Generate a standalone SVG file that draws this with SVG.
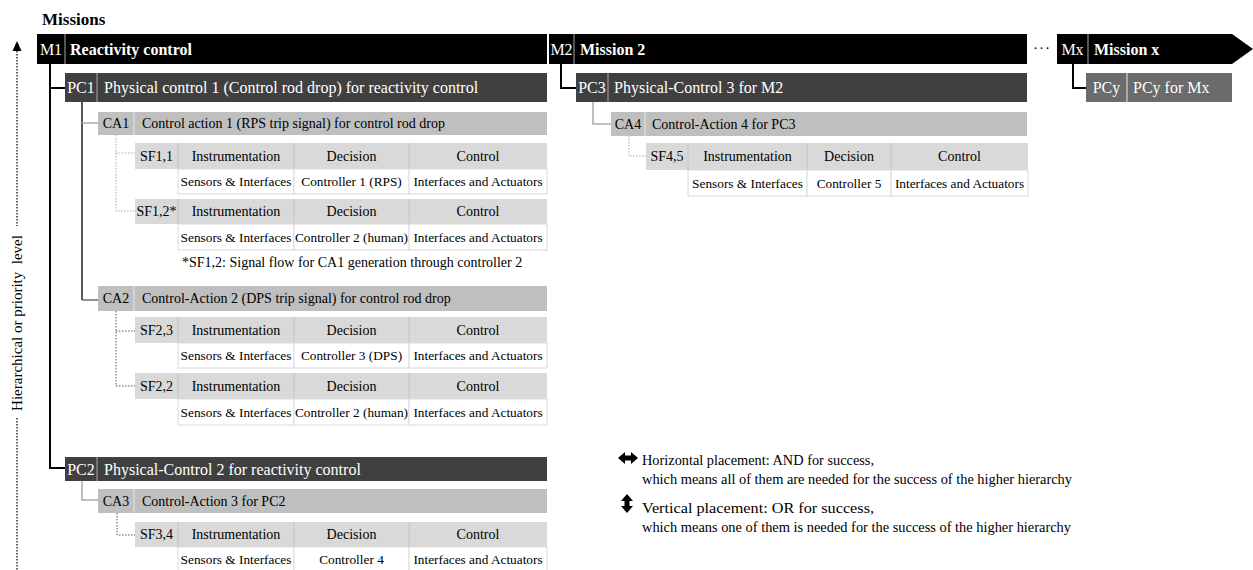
<svg xmlns="http://www.w3.org/2000/svg" width="1253" height="570" viewBox="0 0 1253 570" font-family="'Liberation Serif', 'Times New Roman', serif">
<style>
text{font-family:'Liberation Serif','Times New Roman',serif;dominant-baseline:central}
.m{fill:#000}
.pc{fill:#404040}
.pcy{fill:#6b6b6b}
.ca{fill:#bfbfbf}
.hd{fill:#d9d9d9}
.sep{stroke:#a6a6a6;stroke-width:1}
.sepw{stroke:#e8e8e8;stroke-width:1}
.wt{fill:#fff;font-size:16px}
.wb{fill:#fff;font-size:16px;font-weight:bold}
.ct{fill:#000;font-size:14px}
.th{fill:#000;font-size:14px;text-anchor:middle}
.td{fill:#000;font-size:13.3px;text-anchor:middle}
.cell{fill:#fff;stroke:#d9d9d9;stroke-width:1}
.hsep{stroke:#c4c4c4;stroke-width:1}
.blk{fill:none;stroke:#000;stroke-width:2}
.dk{fill:none;stroke:#222;stroke-width:1.5}
.lg{fill:none;stroke:#aaa;stroke-width:1.5}
.dg{fill:none;stroke:#555;stroke-width:1.3}
.dot{fill:none;stroke:#aaa;stroke-width:1;stroke-dasharray:1.5 1.5}
.dotd{fill:none;stroke:#555;stroke-width:1;stroke-dasharray:1.5 1.5}
.leg{fill:#000;font-size:15.5px}
</style>

<text x="42" y="19" style="font-size:17px;font-weight:bold;fill:#000">Missions</text>

<!-- axis -->
<g id="axis">
<polygon points="17,41 12.5,51 21.5,51" fill="#000"/>
<line x1="17" y1="51" x2="17" y2="226" stroke="#000" stroke-width="1.2" stroke-dasharray="1.5 1.5"/>
<line x1="17" y1="418" x2="17" y2="570" stroke="#000" stroke-width="1.2" stroke-dasharray="1.5 1.5"/>
<text transform="translate(17,323) rotate(-90)" style="font-size:15px;fill:#000;text-anchor:middle;white-space:pre">Hierarchical or priority  level</text>
</g>

<!-- connectors -->
<g id="connectors">
<path class="blk" d="M50,64 V468 H65 M50,88 H65"/>
<path class="blk" d="M561,64 V88 H576"/>
<path class="blk" d="M1073,64 V88 H1086"/>
<path class="dk" d="M82,102 V300"/>
<path class="dg" d="M82,300 H98"/>
<path class="lg" d="M82,123 H98"/>
<path class="lg" d="M82,481 V500 H98"/>
<path class="lg" d="M593,102 V124 H611"/>
<path class="dot" d="M116,135 V211 H135 M116,153 H135"/>
<path class="dotd" d="M116,311 V386 H135 M116,331 H135"/>
<path class="dotd" d="M117,513 V535 H135"/>
<path class="dot" d="M629,136 V156 H646"/>
</g>

<!-- Missions -->
<g id="M1">
<rect class="m" x="37" y="34" width="510" height="30"/>
<line class="sep" x1="65" y1="34" x2="65" y2="64"/>
<text class="wt" x="51" y="49" text-anchor="middle">M1</text>
<text class="wb" x="70" y="49">Reactivity control</text>
</g>
<g id="M2">
<rect class="m" x="549" y="34" width="478" height="30"/>
<line class="sep" x1="574" y1="34" x2="574" y2="64"/>
<text class="wt" x="561.5" y="49" text-anchor="middle">M2</text>
<text class="wb" x="580" y="49">Mission 2</text>
</g>
<text x="1042" y="48" style="font-size:15px;fill:#000;text-anchor:middle;letter-spacing:1px">···</text>
<g id="Mx">
<path class="m" d="M1057,34 H1232 L1253,49 L1232,64 H1057 Z"/>
<line class="sep" x1="1088" y1="34" x2="1088" y2="64"/>
<text class="wt" x="1072.5" y="49" text-anchor="middle">Mx</text>
<text class="wb" x="1094" y="49">Mission x</text>
</g>

<!-- Physical controls -->
<g id="PC1">
<rect class="pc" x="65" y="73" width="482" height="29"/>
<line class="sep" x1="97" y1="73" x2="97" y2="102"/>
<text class="wt" x="81" y="87.5" text-anchor="middle">PC1</text>
<text class="wt" x="104" y="87.5">Physical control 1 (Control rod drop) for reactivity control</text>
</g>
<g id="PC3">
<rect class="pc" x="576" y="73" width="451" height="29"/>
<line class="sep" x1="608" y1="73" x2="608" y2="102"/>
<text class="wt" x="592" y="87.5" text-anchor="middle">PC3</text>
<text class="wt" x="614" y="87.5">Physical-Control 3 for M2</text>
</g>
<g id="PCy">
<rect class="pcy" x="1086" y="73" width="146" height="29"/>
<line class="sepw" x1="1127" y1="73" x2="1127" y2="102"/>
<text class="wt" x="1106.5" y="87.5" text-anchor="middle">PCy</text>
<text class="wt" x="1133" y="87.5">PCy for Mx</text>
</g>
<g id="PC2">
<rect class="pc" x="65" y="457" width="482" height="24"/>
<line class="sep" x1="97" y1="457" x2="97" y2="481"/>
<text class="wt" x="81" y="469" text-anchor="middle">PC2</text>
<text class="wt" x="104" y="469">Physical-Control 2 for reactivity control</text>
</g>

<!-- Control actions -->
<g id="CA1">
<rect class="ca" x="98" y="112" width="449" height="23"/>
<line class="sepw" x1="134" y1="112" x2="134" y2="135"/>
<text class="ct" x="116" y="123.5" text-anchor="middle">CA1</text>
<text class="ct" x="142" y="123.5">Control action 1 (RPS trip signal) for control rod drop</text>
</g>
<g id="CA2">
<rect class="ca" x="98" y="286" width="449" height="25"/>
<line class="sepw" x1="134" y1="286" x2="134" y2="311"/>
<text class="ct" x="116" y="298.5" text-anchor="middle">CA2</text>
<text class="ct" x="142" y="298.5">Control-Action 2 (DPS trip signal) for control rod drop</text>
</g>
<g id="CA3">
<rect class="ca" x="98" y="489" width="449" height="24"/>
<line class="sepw" x1="134" y1="489" x2="134" y2="513"/>
<text class="ct" x="116" y="501" text-anchor="middle">CA3</text>
<text class="ct" x="142" y="501">Control-Action 3 for PC2</text>
</g>
<g id="CA4">
<rect class="ca" x="611" y="112" width="416" height="24"/>
<line class="sepw" x1="645" y1="112" x2="645" y2="136"/>
<text class="ct" x="628" y="124" text-anchor="middle">CA4</text>
<text class="ct" x="652" y="124">Control-Action 4 for PC3</text>
</g>

<!-- Signal flows -->
<g id="SF1_1" transform="translate(0,143)">
<rect class="hd" x="135" y="0" width="412" height="26"/>
<path class="hsep" d="M178,0 V26 M294,0 V26 M409,0 V26"/>
<rect class="cell" x="178" y="26" width="116" height="25"/>
<rect class="cell" x="294" y="26" width="115" height="25"/>
<rect class="cell" x="409" y="26" width="138" height="25"/>
<text class="th" x="156.5" y="13">SF1,1</text>
<text class="th" x="236" y="13">Instrumentation</text>
<text class="th" x="351.5" y="13">Decision</text>
<text class="th" x="478" y="13">Control</text>
<text class="td" x="236" y="38.5">Sensors &amp; Interfaces</text>
<text class="td" x="351.5" y="38.5">Controller 1 (RPS)</text>
<text class="td" x="478" y="38.5">Interfaces and Actuators</text>
</g>
<g id="SF1_2" transform="translate(0,199)">
<rect class="hd" x="135" y="0" width="412" height="25"/>
<path class="hsep" d="M178,0 V25 M294,0 V25 M409,0 V25"/>
<rect class="cell" x="178" y="25" width="116" height="26"/>
<rect class="cell" x="294" y="25" width="115" height="26"/>
<rect class="cell" x="409" y="25" width="138" height="26"/>
<text class="th" x="156.5" y="12.5">SF1,2*</text>
<text class="th" x="236" y="12.5">Instrumentation</text>
<text class="th" x="351.5" y="12.5">Decision</text>
<text class="th" x="478" y="12.5">Control</text>
<text class="td" x="236" y="38">Sensors &amp; Interfaces</text>
<text class="td" x="351.5" y="38">Controller 2 (human)</text>
<text class="td" x="478" y="38">Interfaces and Actuators</text>
</g>
<text x="182" y="262" style="font-size:14px;fill:#000">*SF1,2: Signal flow for CA1 generation through controller 2</text>
<g id="SF2_3" transform="translate(0,317)">
<rect class="hd" x="135" y="0" width="412" height="26"/>
<path class="hsep" d="M178,0 V26 M294,0 V26 M409,0 V26"/>
<rect class="cell" x="178" y="26" width="116" height="25"/>
<rect class="cell" x="294" y="26" width="115" height="25"/>
<rect class="cell" x="409" y="26" width="138" height="25"/>
<text class="th" x="156.5" y="13">SF2,3</text>
<text class="th" x="236" y="13">Instrumentation</text>
<text class="th" x="351.5" y="13">Decision</text>
<text class="th" x="478" y="13">Control</text>
<text class="td" x="236" y="38.5">Sensors &amp; Interfaces</text>
<text class="td" x="351.5" y="38.5">Controller 3 (DPS)</text>
<text class="td" x="478" y="38.5">Interfaces and Actuators</text>
</g>
<g id="SF2_2" transform="translate(0,373)">
<rect class="hd" x="135" y="0" width="412" height="26"/>
<path class="hsep" d="M178,0 V26 M294,0 V26 M409,0 V26"/>
<rect class="cell" x="178" y="26" width="116" height="26"/>
<rect class="cell" x="294" y="26" width="115" height="26"/>
<rect class="cell" x="409" y="26" width="138" height="26"/>
<text class="th" x="156.5" y="13">SF2,2</text>
<text class="th" x="236" y="13">Instrumentation</text>
<text class="th" x="351.5" y="13">Decision</text>
<text class="th" x="478" y="13">Control</text>
<text class="td" x="236" y="39">Sensors &amp; Interfaces</text>
<text class="td" x="351.5" y="39">Controller 2 (human)</text>
<text class="td" x="478" y="39">Interfaces and Actuators</text>
</g>
<g id="SF3_4" transform="translate(0,522)">
<rect class="hd" x="135" y="0" width="412" height="25"/>
<path class="hsep" d="M178,0 V25 M294,0 V25 M409,0 V25"/>
<rect class="cell" x="178" y="25" width="116" height="26"/>
<rect class="cell" x="294" y="25" width="115" height="26"/>
<rect class="cell" x="409" y="25" width="138" height="26"/>
<text class="th" x="156.5" y="12.5">SF3,4</text>
<text class="th" x="236" y="12.5">Instrumentation</text>
<text class="th" x="351.5" y="12.5">Decision</text>
<text class="th" x="478" y="12.5">Control</text>
<text class="td" x="236" y="37.5">Sensors &amp; Interfaces</text>
<text class="td" x="351.5" y="37.5">Controller 4</text>
<text class="td" x="478" y="37.5">Interfaces and Actuators</text>
</g>
<g id="SF4_5" transform="translate(0,143)">
<rect class="hd" x="646" y="0" width="382" height="27"/>
<path class="hsep" d="M688,0 V27 M807,0 V27 M891,0 V27"/>
<rect class="cell" x="688" y="27" width="119" height="26"/>
<rect class="cell" x="807" y="27" width="84" height="26"/>
<rect class="cell" x="891" y="27" width="137" height="26"/>
<text class="th" x="667" y="13.5">SF4,5</text>
<text class="th" x="747.5" y="13.5">Instrumentation</text>
<text class="th" x="849" y="13.5">Decision</text>
<text class="th" x="959.5" y="13.5">Control</text>
<text class="td" x="747.5" y="40">Sensors &amp; Interfaces</text>
<text class="td" x="849" y="40">Controller 5</text>
<text class="td" x="959.5" y="40">Interfaces and Actuators</text>
</g>

<!-- legend -->
<g id="legend">
<polygon points="618,458 625,452 625,455.5 631,455.5 631,452 638,458 631,464 631,460.5 625,460.5 625,464" fill="#000"/>
<text class="leg" x="642" y="459" textLength="232" lengthAdjust="spacingAndGlyphs">Horizontal placement: AND for success,</text>
<text class="leg" x="642" y="478" textLength="430" lengthAdjust="spacingAndGlyphs">which means all of them are needed for the success of the higher hierarchy</text>
<polygon points="627,494 633,501 629.5,501 629.5,506 633,506 627,513 621,506 624.5,506 624.5,501 621,501" fill="#000"/>
<text class="leg" x="642" y="507" textLength="232" lengthAdjust="spacingAndGlyphs">Vertical placement: OR for success,</text>
<text class="leg" x="642" y="526" textLength="429" lengthAdjust="spacingAndGlyphs">which means one of them is needed for the success of the higher hierarchy</text>
</g>
</svg>
